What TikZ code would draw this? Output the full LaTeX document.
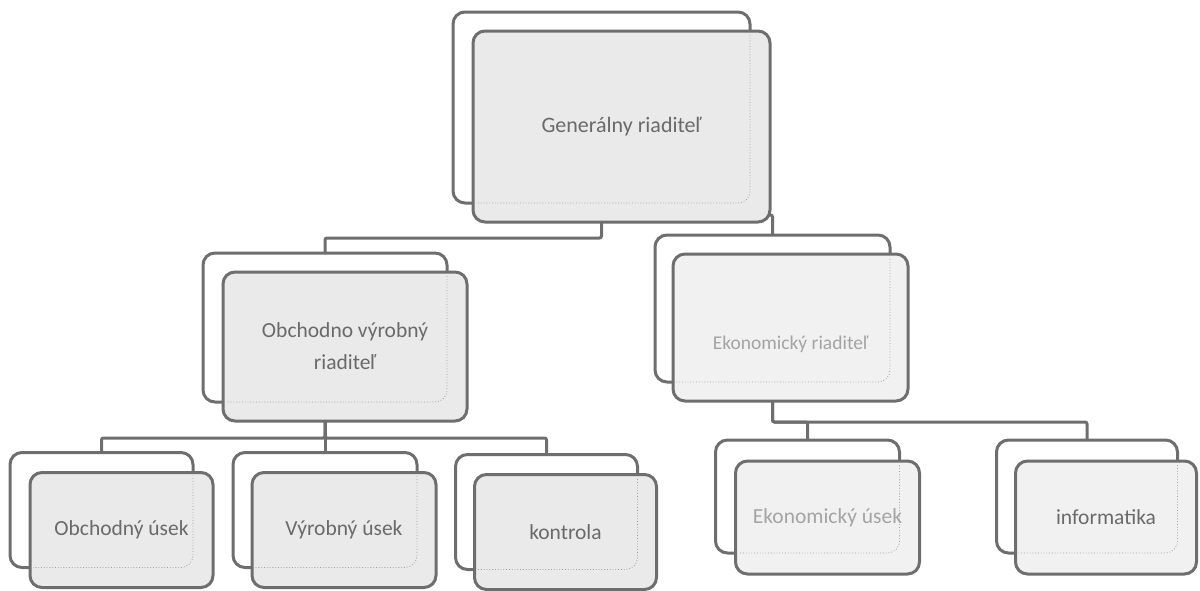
\documentclass[tikz,border=0pt]{standalone}
\usepackage{fontspec}
\setmainfont{Carlito}
\usepackage{xcolor}
\usepackage{tikz}
\usetikzlibrary{calc,backgrounds,positioning}

\definecolor{boxline}{HTML}{6E6E6E}
\definecolor{boxfill}{HTML}{EAEAEA}
\definecolor{ekfill}{HTML}{F1F1F1}
\definecolor{boxtext}{HTML}{6A6A6A}
\definecolor{ektext}{HTML}{A4A4A4}
\definecolor{dotline}{HTML}{9C9C9C}

\tikzset{
  unit/.style={rectangle, rounded corners=12pt, draw=boxline, line width=3pt,
    inner sep=0pt, outer sep=0pt},
  backbox/.style={unit, fill=white},
  frontbox/.style={unit, fill=boxfill, text=boxtext, align=center,
    font=\fontsize{21.5}{32}\selectfont},
  ekbox/.style={frontbox, fill=ekfill, text=ektext},
  conn/.style={draw=boxline, line width=3pt, rounded corners=2pt},
  backdots/.style={draw=dotline, line width=0.8pt, dotted, rounded corners=12pt}
}

\begin{document}
\begin{tikzpicture}[x=1pt,y=-1pt]

  \useasboundingbox (0,0) rectangle (1200,590);

  % generalny riaditel
  \node[backbox, minimum width=297, minimum height=191] (genB) at (601.5,107.5) {};
  \node[frontbox, minimum width=297, minimum height=191,
    font=\fontsize{22}{28}\selectfont] (genF) at ($(genB)+(20,19)$) {Generálny riaditeľ};

  % druha uroven
  \node[backbox, minimum width=244, minimum height=149] (obB) at (325,327.5) {};
  \node[frontbox, minimum width=244, minimum height=149] (obF) at ($(obB)+(20,19)$)
    {Obchodno výrobný\\riaditeľ};
  \node[backbox, minimum width=235, minimum height=147] (ekB) at (772.5,308.5) {};
  \node[ekbox, minimum width=235, minimum height=147] (ekF) at ($(ekB)+(18,19)$) {};
  \node[text=ektext, font=\fontsize{19.5}{24}\selectfont, inner sep=0pt] (ekT)
    at ([yshift=-17pt]ekF.center) {Ekonomický riaditeľ};

  % tretia uroven
  \node[backbox, minimum width=183, minimum height=115] (b1B) at (101.5,510) {};
  \node[frontbox, minimum width=183, minimum height=115] (b1F) at ($(b1B)+(20,20)$) {Obchodný úsek};
  \node[backbox, minimum width=184, minimum height=115] (b2B) at (325,510) {};
  \node[frontbox, minimum width=184, minimum height=115] (b2F) at ($(b2B)+(19,20)$) {Výrobný úsek};
  \node[backbox, minimum width=182, minimum height=115] (b3B) at (546.5,512) {};
  \node[frontbox, minimum width=182, minimum height=115] (b3F) at ($(b3B)+(19,20)$) {kontrola};
  \node[backbox, minimum width=184, minimum height=113] (b4B) at (807.5,496.5) {};
  \node[ekbox, minimum width=184, minimum height=113] (b4F) at ($(b4B)+(20,21)$) {Ekonomický úsek};
  \node[backbox, minimum width=181, minimum height=113] (b5B) at (1087,496.5) {};
  \node[frontbox, fill=ekfill, minimum width=181, minimum height=113] (b5F) at ($(b5B)+(19,21)$) {informatika};

  % zadne hrany presvitaju cez predny box
  \foreach \u in {gen,ob,ek,b1,b2,b3,b4,b5}{
    \begin{scope}
      \clip[rounded corners=10pt] ([shift={(3,3)}]\u F.north west) rectangle ([shift={(-3,-3)}]\u F.south east);
      \draw[backdots] (\u B.north west) rectangle (\u B.south east);
    \end{scope}
  }

  \begin{pgfonlayer}{background}
    \draw[conn] (genB.south) -- ++(0,35) -| (obB.north);
    \draw[conn] (genB.south) -- ++(0,12) -| (ekB.north);
    \draw[conn] (obB.south) -- ++(0,36) -| (b1B.north);
    \draw[conn] (obB.south) -- (b2B.north);
    \draw[conn] (obB.south) -- ++(0,36) -| (b3B.north);
    \draw[conn] (ekB.south) -- ++(0,40) -| (b4B.north);
    \draw[conn] (ekB.south) -- ++(0,40) -| (b5B.north);
  \end{pgfonlayer}

\end{tikzpicture}
\end{document}
